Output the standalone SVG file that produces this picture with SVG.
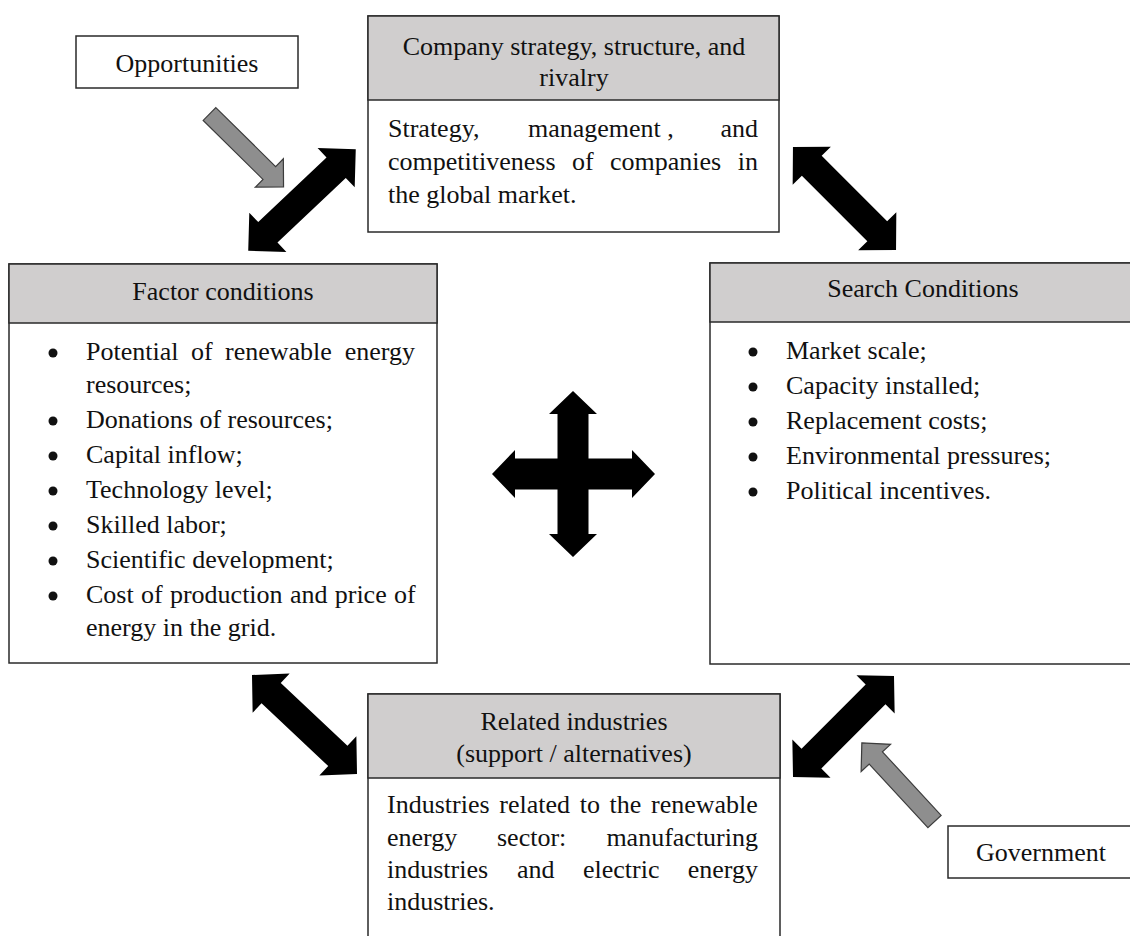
<svg xmlns="http://www.w3.org/2000/svg" width="1130" height="936" viewBox="0 0 1130 936">
<style>
  .box{fill:#ffffff;stroke:#2a2a2a;stroke-width:1.5}
  .hdr{fill:#d0cece;stroke:#2a2a2a;stroke-width:1.5}
  .t{font-family:"Liberation Serif","Times New Roman",serif;font-size:26px;fill:#111111}
  .c{text-anchor:middle}
  .e{text-anchor:end}
  .dot{fill:#111111}
  .blk{fill:#000000}
  .gry{fill:#8e8e8e;stroke:#3c3c3c;stroke-width:1.2;stroke-linejoin:miter}
</style>
<defs>
  <path id="dbl" d="M -74 0 L -47 -27 L -47 -14 L 47 -14 L 47 -27 L 74 0 L 47 27 L 47 14 L -47 14 L -47 27 Z"/>
  <path id="sgl" d="M 0 -9 L 84 -9 L 84 -20 L 104 0 L 84 20 L 84 9 L 0 9 Z"/>
</defs>
<rect x="0" y="0" width="1130" height="936" fill="#ffffff"/>

<g id="connectors">
  <!-- Opportunities arrow -->
  <use href="#sgl" class="gry" transform="translate(209.5,114) rotate(44.6)"/>
  <!-- Government arrow -->
  <use href="#sgl" class="gry" transform="translate(934.5,821.5) rotate(-132.7) scale(1.03,1)"/>
  <!-- Factor <-> Company -->
  <use href="#dbl" class="blk" transform="translate(302,200) rotate(-43.4)"/>
  <!-- Company <-> Search -->
  <use href="#dbl" class="blk" transform="translate(844.5,198.5) rotate(45) scale(0.985,1)"/>
  <!-- Factor <-> Related -->
  <use href="#dbl" class="blk" transform="translate(304.5,724.5) rotate(43.3) scale(0.975,1)"/>
  <!-- Search <-> Related -->
  <use href="#dbl" class="blk" transform="translate(843.5,726.5) rotate(-45) scale(0.965,1)"/>
  <!-- Central cross -->
  <path class="blk" d="M 573 391 L 597 414 L 588.5 414 L 588.5 458.5 L 632 458.5 L 632 450 L 655 474 L 632 498 L 632 489.5 L 588.5 489.5 L 588.5 534 L 597 534 L 573 557 L 549 534 L 557.5 534 L 557.5 489.5 L 515 489.5 L 515 498 L 492 474 L 515 450 L 515 458.5 L 557.5 458.5 L 557.5 414 L 549 414 Z"/>
</g>

<g id="opportunities">
  <rect class="box" x="76" y="36" width="222" height="52"/>
  <text class="t c" x="187" y="72">Opportunities</text>
</g>

<g id="company">
  <rect class="box" x="368" y="16" width="411" height="216"/>
  <rect class="hdr" x="368" y="16" width="411" height="84"/>
  <text class="t c" x="574" y="55">Company strategy, structure, and</text>
  <text class="t c" x="574" y="86">rivalry</text>
  <text class="t" x="388" y="137">Strategy,</text>
  <text class="t" x="528" y="137">management ,</text>
  <text class="t e" x="758" y="137">and</text>
  <text class="t" x="388" y="170">competitiveness</text>
  <text class="t" x="572" y="170">of</text>
  <text class="t" x="610" y="170">companies</text>
  <text class="t e" x="758" y="170">in</text>
  <text class="t" x="388" y="203">the global market.</text>
</g>

<g id="factor">
  <rect class="box" x="9" y="264" width="428" height="399"/>
  <rect class="hdr" x="9" y="264" width="428" height="59"/>
  <text class="t c" x="223" y="300">Factor conditions</text>
  <circle class="dot" cx="53" cy="353" r="4.5"/>
  <text class="t" x="86" y="360">Potential</text>
  <text class="t" x="191" y="360">of</text>
  <text class="t" x="225" y="360">renewable</text>
  <text class="t e" x="415" y="360">energy</text>
  <text class="t" x="86" y="393">resources;</text>
  <circle class="dot" cx="53" cy="421" r="4.5"/>
  <text class="t" x="86" y="428">Donations of resources;</text>
  <circle class="dot" cx="53" cy="456" r="4.5"/>
  <text class="t" x="86" y="463">Capital inflow;</text>
  <circle class="dot" cx="53" cy="491" r="4.5"/>
  <text class="t" x="86" y="498">Technology level;</text>
  <circle class="dot" cx="53" cy="526" r="4.5"/>
  <text class="t" x="86" y="533">Skilled labor;</text>
  <circle class="dot" cx="53" cy="561" r="4.5"/>
  <text class="t" x="86" y="568">Scientific development;</text>
  <circle class="dot" cx="53" cy="596" r="4.5"/>
  <text class="t" x="86" y="603" word-spacing="0.8">Cost of production and price of</text>
  <text class="t" x="86" y="636">energy in the grid.</text>
</g>

<g id="search">
  <rect class="box" x="710" y="263" width="430" height="401"/>
  <rect class="hdr" x="710" y="263" width="430" height="59"/>
  <text class="t c" x="923" y="297">Search Conditions</text>
  <circle class="dot" cx="753" cy="352" r="4.5"/>
  <text class="t" x="786" y="359">Market scale;</text>
  <circle class="dot" cx="753" cy="387" r="4.5"/>
  <text class="t" x="786" y="394">Capacity installed;</text>
  <circle class="dot" cx="753" cy="422" r="4.5"/>
  <text class="t" x="786" y="429">Replacement costs;</text>
  <circle class="dot" cx="753" cy="457" r="4.5"/>
  <text class="t" x="786" y="464">Environmental pressures;</text>
  <circle class="dot" cx="753" cy="492" r="4.5"/>
  <text class="t" x="786" y="499">Political incentives.</text>
</g>

<g id="related">
  <rect class="box" x="368" y="694" width="412" height="260"/>
  <rect class="hdr" x="368" y="694" width="412" height="84"/>
  <text class="t c" x="574" y="730">Related industries</text>
  <text class="t c" x="574" y="762">(support / alternatives)</text>
  <text class="t" x="387" y="813" word-spacing="3.2">Industries related to the renewable</text>
  <text class="t" x="387" y="846">energy</text>
  <text class="t" x="497" y="846">sector:</text>
  <text class="t e" x="758" y="846">manufacturing</text>
  <text class="t" x="387" y="878">industries</text>
  <text class="t" x="517" y="878">and</text>
  <text class="t" x="583" y="878">electric</text>
  <text class="t e" x="758" y="878">energy</text>
  <text class="t" x="387" y="910">industries.</text>
</g>

<g id="government">
  <rect class="box" x="948" y="826" width="192" height="52"/>
  <text class="t c" x="1041" y="861">Government</text>
</g>
</svg>
